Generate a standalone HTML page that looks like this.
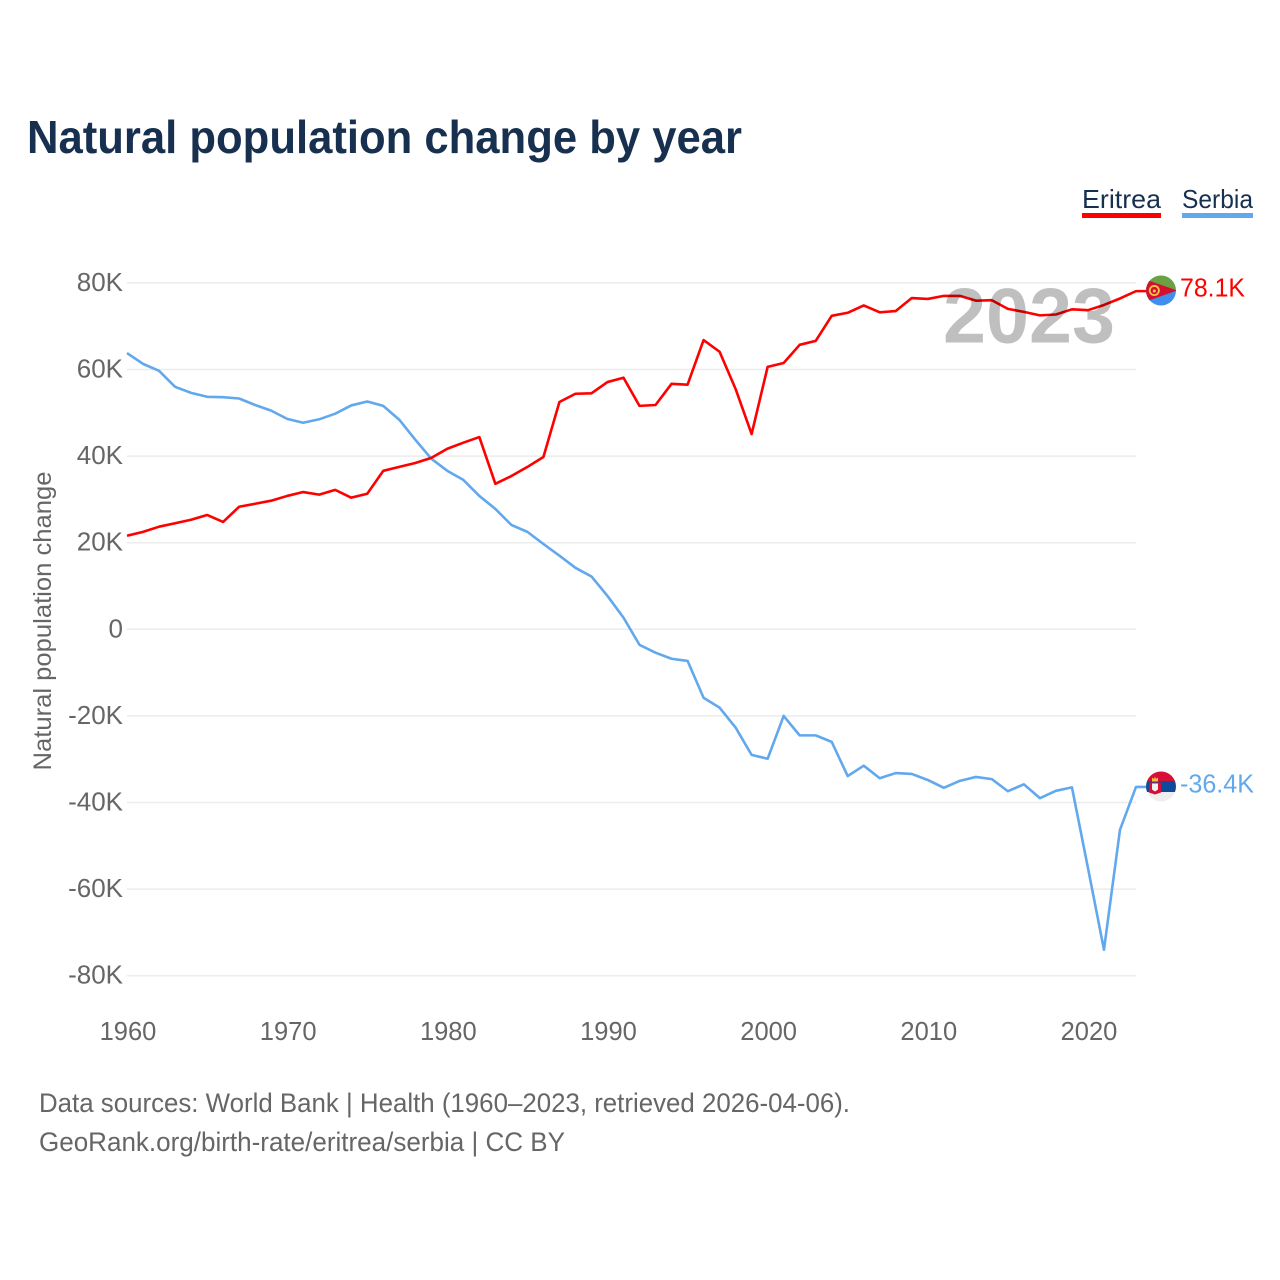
<!DOCTYPE html>
<html lang="en">
<head>
<meta charset="utf-8">
<title>Natural population change by year</title>
<style>
html,body{margin:0;padding:0;background:#fff;width:1280px;height:1280px;overflow:hidden}
svg{display:block}
text{font-family:"Liberation Sans",sans-serif}
</style>
</head>
<body>
<svg id="chart" xmlns="http://www.w3.org/2000/svg" width="1280" height="1280" viewBox="0 0 1280 1280">
  <text x="27" y="153" font-size="46" font-weight="700" fill="#18304f" textLength="715" lengthAdjust="spacingAndGlyphs">Natural population change by year</text>

  <g>
    <text x="1082" y="208" font-size="26" fill="#18304f" textLength="79" lengthAdjust="spacingAndGlyphs">Eritrea</text>
    <rect x="1082" y="213" width="79" height="5" fill="#ff0000"/>
  </g>
  <g>
    <text x="1182" y="208" font-size="26" fill="#18304f" textLength="71" lengthAdjust="spacingAndGlyphs">Serbia</text>
    <rect x="1182" y="213" width="71" height="5" fill="#62a8ec"/>
  </g>

  <g id="grid"></g>
  <g id="yTicks"></g>
  <g id="xTicks"></g>

  <text transform="translate(51 621) rotate(-90)" text-anchor="middle" font-size="25" fill="#666666" textLength="299" lengthAdjust="spacingAndGlyphs">Natural population change</text>

  <g id="lines"></g>

  <text x="943" y="342.5" font-size="78" font-weight="700" fill="#000000" fill-opacity="0.25" textLength="172" lengthAdjust="spacingAndGlyphs">2023</text>

  <defs>
    <clipPath id="flagClip"><circle cx="0" cy="0" r="15"/></clipPath>
  </defs>

  <g id="flagEritrea">
    <g clip-path="url(#flagClip)">
      <rect x="-16" y="-16" width="32" height="16" fill="#6aa142"/>
      <rect x="-16" y="0" width="32" height="16" fill="#3f8fef"/>
      <polygon points="-28,-15.5 16,0 -28,15.5" fill="#d3102e"/>
      <circle cx="-6.7" cy="0" r="4.6" fill="none" stroke="#f4c542" stroke-width="1.8"/>
      <circle cx="-6.7" cy="0.5" r="1.5" fill="#f4c542"/>
    </g>
  </g>
  <g id="flagSerbia">
    <g clip-path="url(#flagClip)">
      <rect x="-16" y="-16" width="32" height="10.5" fill="#d50f35"/>
      <rect x="-16" y="-5.5" width="32" height="11" fill="#0f4a9c"/>
      <rect x="-16" y="5.5" width="32" height="10.5" fill="#eeeeee"/>
      <polygon points="-12,-4 -0,-4 0,6 -6,8 -12,6" fill="#d50f35"/>
      <polygon points="-9,-3 -3,-3 -3,3 -6,5 -9,3" fill="#f2f2f2"/>
      <polygon points="-9,-5 -9,-9 -7,-7.5 -6,-10 -5,-7.5 -3,-9 -3,-5" fill="#f0c040"/>
    </g>
  </g>

  <text id="labelEritrea" x="1180" y="297" font-size="26" fill="#ff0000" textLength="65" lengthAdjust="spacingAndGlyphs">78.1K</text>
  <text id="labelSerbia" x="1180" y="793" font-size="26" fill="#62a8ec" textLength="74" lengthAdjust="spacingAndGlyphs">-36.4K</text>

  <text x="39" y="1112" font-size="27" fill="#666666" textLength="811" lengthAdjust="spacingAndGlyphs">Data sources: World Bank | Health (1960–2023, retrieved 2026-04-06).</text>
  <a><text x="39" y="1151" font-size="27" fill="#666666" textLength="526" lengthAdjust="spacingAndGlyphs">GeoRank.org/birth-rate/eritrea/serbia | CC BY</text></a>
</svg>

<script>
const startYear = 1960;
const endYear = 2023;
const yTickValues = [80, 60, 40, 20, 0, -20, -40, -60, -80];
const yTickLabels = ["80K", "60K", "40K", "20K", "0", "-20K", "-40K", "-60K", "-80K"];
const xTickYears = [1960, 1970, 1980, 1990, 2000, 2010, 2020];
const eritreaValues = [21.6,22.5,23.7,24.5,25.3,26.4,24.8,28.3,29.0,29.7,30.8,31.7,31.1,32.2,30.4,31.3,36.6,37.5,38.4,39.6,41.7,43.1,44.4,33.6,35.4,37.5,39.8,52.5,54.4,54.5,57.1,58.1,51.6,51.8,56.7,56.5,66.8,64.1,55.5,45.1,60.6,61.5,65.7,66.6,72.4,73.1,74.8,73.2,73.5,76.5,76.3,77.0,77.0,75.9,76.0,74.0,73.3,72.5,72.7,73.9,73.7,74.9,76.4,78.1];
const serbiaValues = [63.8,61.3,59.7,56.0,54.6,53.7,53.6,53.3,51.8,50.5,48.6,47.7,48.5,49.8,51.7,52.6,51.6,48.4,43.8,39.4,36.6,34.5,30.8,27.8,24.1,22.5,19.7,17.0,14.2,12.2,7.7,2.7,-3.6,-5.4,-6.8,-7.3,-15.8,-18.1,-22.7,-29.0,-29.9,-20.0,-24.5,-24.5,-26.0,-33.9,-31.5,-34.4,-33.2,-33.4,-34.8,-36.6,-35.0,-34.1,-34.6,-37.4,-35.8,-39.0,-37.3,-36.5,-55.1,-74.0,-46.3,-36.4];

const NS = "http://www.w3.org/2000/svg";
const plotLeft = 127;
const plotRight = 1136;
const xScale = function (year) {
  return plotLeft + (year - startYear) * (plotRight - plotLeft) / (endYear - startYear);
};
const yScale = function (value) {
  return 629.3 - value * 4.33;
};

const gridGroup = document.getElementById("grid");
const yTickGroup = document.getElementById("yTicks");
yTickValues.forEach(function (value, i) {
  const line = document.createElementNS(NS, "line");
  
  
  line.setAttribute("x1", plotLeft);
  line.setAttribute("x2", plotRight);
  line.setAttribute("y1", yScale(value));
  line.setAttribute("y2", yScale(value));
  line.setAttribute("stroke", "#ececec");
  line.setAttribute("stroke-width", "1.5");
  gridGroup.appendChild(line);

  const label = document.createElementNS(NS, "text");
  
  
  label.setAttribute("x", 123);
  label.setAttribute("y", yScale(value) + 8);
  label.setAttribute("text-anchor", "end");
  label.setAttribute("font-size", "26");
  label.setAttribute("fill", "#666666");
  label.textContent = yTickLabels[i];
  yTickGroup.appendChild(label);
});

const xTickGroup = document.getElementById("xTicks");
xTickYears.forEach(function (year) {
  const label = document.createElementNS(NS, "text");
  
  
  label.setAttribute("x", xScale(year) + 1);
  label.setAttribute("y", 1040);
  label.setAttribute("text-anchor", "middle");
  label.setAttribute("font-size", "25.5");
  label.setAttribute("fill", "#666666");
  label.textContent = String(year);
  xTickGroup.appendChild(label);
});

const lineGroup = document.getElementById("lines");
function drawSeries(values, color, name) {
  const points = values.map(function (v, i) {
    return xScale(startYear + i).toFixed(2) + "," + yScale(v).toFixed(2);
  });
  const lastY = yScale(values[values.length - 1]).toFixed(2);
  points.push("1146," + lastY);
  const line = document.createElementNS(NS, "polyline");
  
  
  line.setAttribute("points", points.join(" "));
  line.setAttribute("fill", "none");
  line.setAttribute("stroke", color);
  line.setAttribute("stroke-width", "2.6");
  line.setAttribute("stroke-linejoin", "round");
  lineGroup.appendChild(line);
}
drawSeries(serbiaValues, "#62a8ec", "series-line-serbia");
drawSeries(eritreaValues, "#ff0000", "series-line-eritrea");

const eritreaEndY = yScale(eritreaValues[eritreaValues.length - 1]);
const serbiaEndY = yScale(serbiaValues[serbiaValues.length - 1]);
document.getElementById("flagEritrea").setAttribute("transform", "translate(1161 " + (eritreaEndY - 0.6) + ")");
document.getElementById("flagSerbia").setAttribute("transform", "translate(1161 " + (serbiaEndY - 0.4) + ")");
document.getElementById("labelEritrea").setAttribute("y", eritreaEndY + 5.5);
document.getElementById("labelSerbia").setAttribute("y", serbiaEndY + 5.5);
</script>
</body>
</html>
